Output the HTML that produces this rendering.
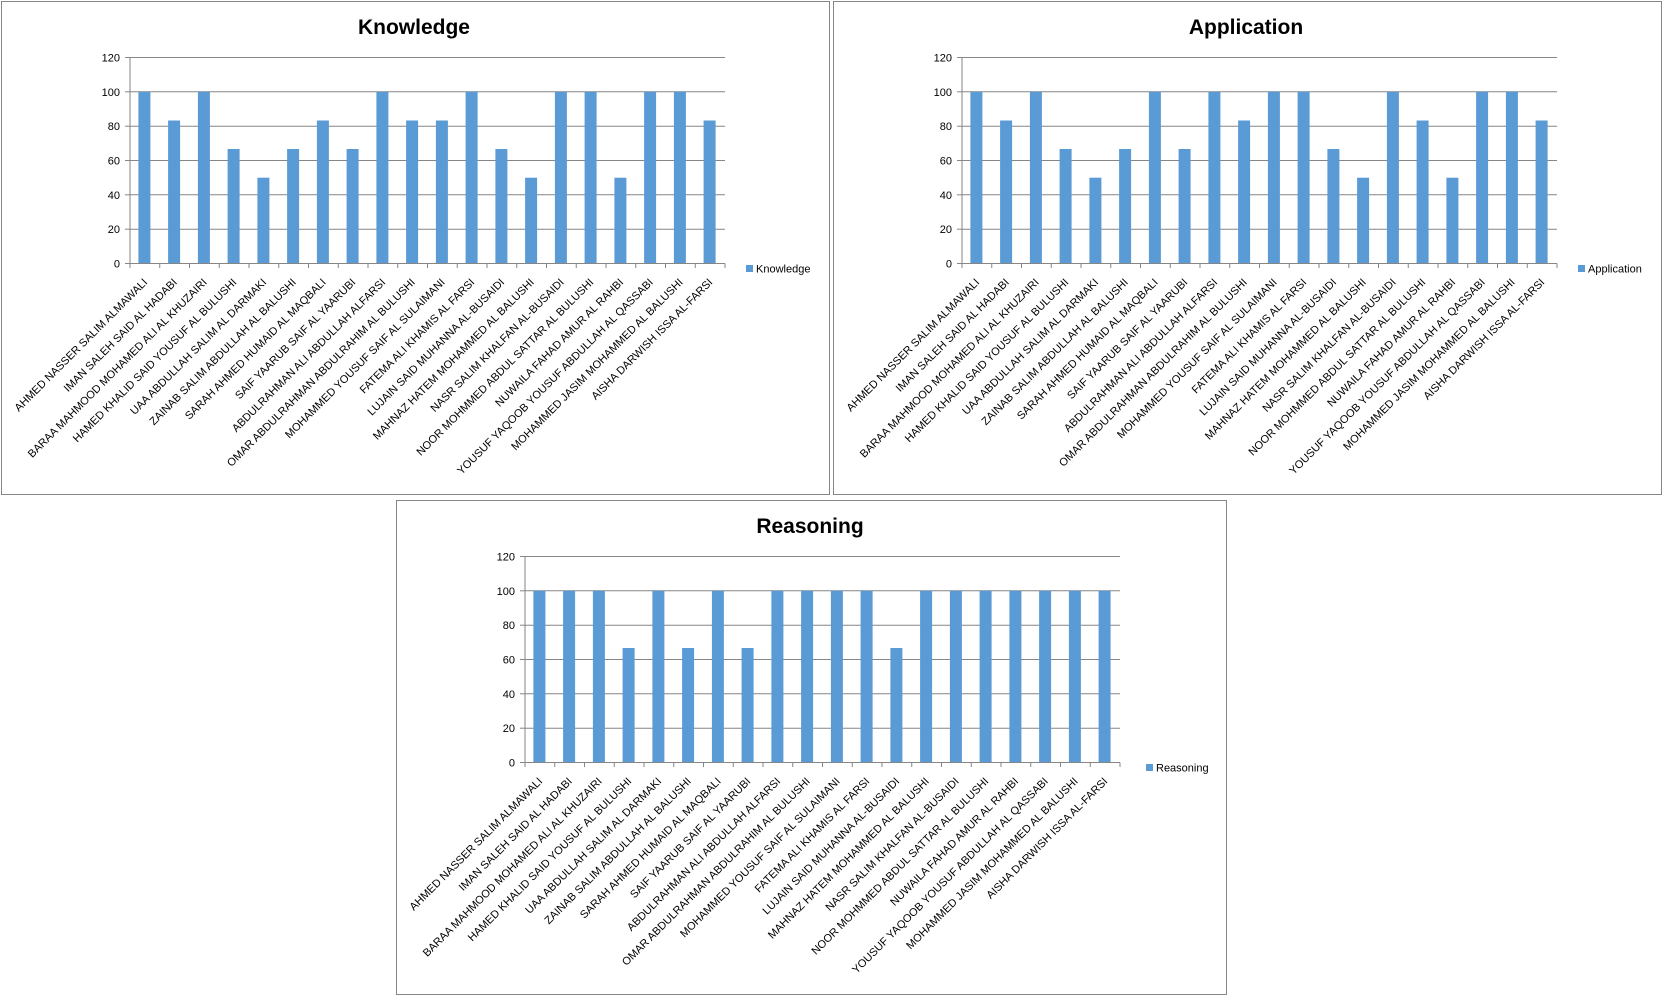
<!DOCTYPE html>
<html><head><meta charset="utf-8"><style>
html,body{margin:0;padding:0;background:#fff;}
svg{display:block;}
text{font-family:"Liberation Sans",sans-serif;fill:#000;}
.t{font-size:21px;font-weight:bold;}
.y{font-size:11px;text-anchor:end;}
.l{font-size:11px;text-anchor:end;}
.g{stroke:#868686;stroke-width:1;}
.b{fill:#5b9bd5;}
</style></head><body>
<svg width="1664" height="996" viewBox="0 0 1664 996" xmlns="http://www.w3.org/2000/svg">

<!-- Chart 1 Knowledge -->
<g transform="translate(1,1)">
<rect x="0.5" y="0.5" width="828" height="493" fill="#fff" stroke="#868686"/>
<text class="t" x="413" y="33" text-anchor="middle">Knowledge</text>
<g class="g">
<line x1="129" y1="56.5" x2="724" y2="56.5"/><line x1="129" y1="90.8" x2="724" y2="90.8"/><line x1="129" y1="125.2" x2="724" y2="125.2"/><line x1="129" y1="159.5" x2="724" y2="159.5"/><line x1="129" y1="193.8" x2="724" y2="193.8"/><line x1="129" y1="228.2" x2="724" y2="228.2"/>
<line x1="124" y1="56.5" x2="129" y2="56.5"/><line x1="124" y1="90.8" x2="129" y2="90.8"/><line x1="124" y1="125.2" x2="129" y2="125.2"/><line x1="124" y1="159.5" x2="129" y2="159.5"/><line x1="124" y1="193.8" x2="129" y2="193.8"/><line x1="124" y1="228.2" x2="129" y2="228.2"/><line x1="124" y1="262.5" x2="129" y2="262.5"/>
</g>
<text class="y" x="119" y="60.5">120</text><text class="y" x="119" y="94.8">100</text><text class="y" x="119" y="129.2">80</text><text class="y" x="119" y="163.5">60</text><text class="y" x="119" y="197.8">40</text><text class="y" x="119" y="232.2">20</text><text class="y" x="119" y="266.5">0</text>
<g class="b">
<rect x="137.4" y="90.8" width="12" height="171.7"/><rect x="167.1" y="119.5" width="12" height="143"/><rect x="196.9" y="90.8" width="12" height="171.7"/><rect x="226.6" y="148" width="12" height="114.5"/><rect x="256.4" y="176.7" width="12" height="85.8"/><rect x="286.1" y="148" width="12" height="114.5"/><rect x="315.9" y="119.5" width="12" height="143"/><rect x="345.6" y="148" width="12" height="114.5"/><rect x="375.4" y="90.8" width="12" height="171.7"/><rect x="405.1" y="119.5" width="12" height="143"/><rect x="434.9" y="119.5" width="12" height="143"/><rect x="464.6" y="90.8" width="12" height="171.7"/><rect x="494.4" y="148" width="12" height="114.5"/><rect x="524.1" y="176.7" width="12" height="85.8"/><rect x="553.9" y="90.8" width="12" height="171.7"/><rect x="583.6" y="90.8" width="12" height="171.7"/><rect x="613.4" y="176.7" width="12" height="85.8"/><rect x="643.1" y="90.8" width="12" height="171.7"/><rect x="672.9" y="90.8" width="12" height="171.7"/><rect x="702.6" y="119.5" width="12" height="143"/>
</g>
<g class="g">
<line x1="129" y1="56" x2="129" y2="267"/><line x1="129" y1="262.5" x2="724" y2="262.5"/>
<line x1="158.75" y1="262.5" x2="158.75" y2="267"/><line x1="188.5" y1="262.5" x2="188.5" y2="267"/><line x1="218.25" y1="262.5" x2="218.25" y2="267"/><line x1="248" y1="262.5" x2="248" y2="267"/><line x1="277.75" y1="262.5" x2="277.75" y2="267"/><line x1="307.5" y1="262.5" x2="307.5" y2="267"/><line x1="337.25" y1="262.5" x2="337.25" y2="267"/><line x1="367" y1="262.5" x2="367" y2="267"/><line x1="396.75" y1="262.5" x2="396.75" y2="267"/><line x1="426.5" y1="262.5" x2="426.5" y2="267"/><line x1="456.25" y1="262.5" x2="456.25" y2="267"/><line x1="486" y1="262.5" x2="486" y2="267"/><line x1="515.75" y1="262.5" x2="515.75" y2="267"/><line x1="545.5" y1="262.5" x2="545.5" y2="267"/><line x1="575.25" y1="262.5" x2="575.25" y2="267"/><line x1="605" y1="262.5" x2="605" y2="267"/><line x1="634.75" y1="262.5" x2="634.75" y2="267"/><line x1="664.5" y1="262.5" x2="664.5" y2="267"/><line x1="694.25" y1="262.5" x2="694.25" y2="267"/><line x1="724" y1="262.5" x2="724" y2="267"/>
</g>
<rect class="b" x="745" y="264" width="7" height="7"/><text x="755" y="271.5" style="font-size:11px">Knowledge</text>
<g transform="translate(-5,0)">
<text class="l" transform="translate(152,282) rotate(-45)">AHMED NASSER SALIM ALMAWALI</text>
<text class="l" transform="translate(181.7,282) rotate(-45)">IMAN SALEH SAID AL HADABI</text>
<text class="l" transform="translate(211.5,282) rotate(-45)">BARAA MAHMOOD MOHAMED ALI AL KHUZAIRI</text>
<text class="l" transform="translate(241.2,282) rotate(-45)">HAMED KHALID SAID YOUSUF AL BULUSHI</text>
<text class="l" transform="translate(271,282) rotate(-45)">UAA ABDULLAH SALIM AL DARMAKI</text>
<text class="l" transform="translate(300.7,282) rotate(-45)">ZAINAB SALIM ABDULLAH AL BALUSHI</text>
<text class="l" transform="translate(330.5,282) rotate(-45)">SARAH AHMED HUMAID AL MAQBALI</text>
<text class="l" transform="translate(360.2,282) rotate(-45)">SAIF YAARUB SAIF AL YAARUBI</text>
<text class="l" transform="translate(390,282) rotate(-45)">ABDULRAHMAN ALI ABDULLAH  ALFARSI</text>
<text class="l" transform="translate(419.7,282) rotate(-45)">OMAR ABDULRAHMAN ABDULRAHIM AL BULUSHI</text>
<text class="l" transform="translate(449.5,282) rotate(-45)">MOHAMMED YOUSUF SAIF  AL SULAIMANI</text>
<text class="l" transform="translate(479.2,282) rotate(-45)">FATEMA ALI KHAMIS AL FARSI</text>
<text class="l" transform="translate(509,282) rotate(-45)">LUJAIN SAID MUHANNA AL-BUSAIDI</text>
<text class="l" transform="translate(538.7,282) rotate(-45)">MAHNAZ HATEM MOHAMMED AL BALUSHI</text>
<text class="l" transform="translate(568.5,282) rotate(-45)">NASR SALIM KHALFAN AL-BUSAIDI</text>
<text class="l" transform="translate(598.2,282) rotate(-45)">NOOR MOHMMED ABDUL SATTAR  AL BULUSHI</text>
<text class="l" transform="translate(628,282) rotate(-45)">NUWAILA FAHAD AMUR AL RAHBI</text>
<text class="l" transform="translate(657.7,282) rotate(-45)">YOUSUF YAQOOB YOUSUF ABDULLAH AL QASSABI</text>
<text class="l" transform="translate(687.5,282) rotate(-45)">MOHAMMED JASIM MOHAMMED AL BALUSHI</text>
<text class="l" transform="translate(717.2,282) rotate(-45)">AISHA DARWISH ISSA AL-FARSI</text>
</g>
</g>

<!-- Chart 2 Application -->
<g transform="translate(833,1)">
<rect x="0.5" y="0.5" width="828" height="493" fill="#fff" stroke="#868686"/>
<text class="t" x="413" y="33" text-anchor="middle">Application</text>
<g class="g">
<line x1="129" y1="56.5" x2="724" y2="56.5"/><line x1="129" y1="90.8" x2="724" y2="90.8"/><line x1="129" y1="125.2" x2="724" y2="125.2"/><line x1="129" y1="159.5" x2="724" y2="159.5"/><line x1="129" y1="193.8" x2="724" y2="193.8"/><line x1="129" y1="228.2" x2="724" y2="228.2"/>
<line x1="124" y1="56.5" x2="129" y2="56.5"/><line x1="124" y1="90.8" x2="129" y2="90.8"/><line x1="124" y1="125.2" x2="129" y2="125.2"/><line x1="124" y1="159.5" x2="129" y2="159.5"/><line x1="124" y1="193.8" x2="129" y2="193.8"/><line x1="124" y1="228.2" x2="129" y2="228.2"/><line x1="124" y1="262.5" x2="129" y2="262.5"/>
</g>
<text class="y" x="119" y="60.5">120</text><text class="y" x="119" y="94.8">100</text><text class="y" x="119" y="129.2">80</text><text class="y" x="119" y="163.5">60</text><text class="y" x="119" y="197.8">40</text><text class="y" x="119" y="232.2">20</text><text class="y" x="119" y="266.5">0</text>
<g class="b">
<rect x="137.4" y="90.8" width="12" height="171.7"/><rect x="167.1" y="119.5" width="12" height="143"/><rect x="196.9" y="90.8" width="12" height="171.7"/><rect x="226.6" y="148" width="12" height="114.5"/><rect x="256.4" y="176.7" width="12" height="85.8"/><rect x="286.1" y="148" width="12" height="114.5"/><rect x="315.9" y="90.8" width="12" height="171.7"/><rect x="345.6" y="148" width="12" height="114.5"/><rect x="375.4" y="90.8" width="12" height="171.7"/><rect x="405.1" y="119.5" width="12" height="143"/><rect x="434.9" y="90.8" width="12" height="171.7"/><rect x="464.6" y="90.8" width="12" height="171.7"/><rect x="494.4" y="148" width="12" height="114.5"/><rect x="524.1" y="176.7" width="12" height="85.8"/><rect x="553.9" y="90.8" width="12" height="171.7"/><rect x="583.6" y="119.5" width="12" height="143"/><rect x="613.4" y="176.7" width="12" height="85.8"/><rect x="643.1" y="90.8" width="12" height="171.7"/><rect x="672.9" y="90.8" width="12" height="171.7"/><rect x="702.6" y="119.5" width="12" height="143"/>
</g>
<g class="g">
<line x1="129" y1="56" x2="129" y2="267"/><line x1="129" y1="262.5" x2="724" y2="262.5"/>
<line x1="158.75" y1="262.5" x2="158.75" y2="267"/><line x1="188.5" y1="262.5" x2="188.5" y2="267"/><line x1="218.25" y1="262.5" x2="218.25" y2="267"/><line x1="248" y1="262.5" x2="248" y2="267"/><line x1="277.75" y1="262.5" x2="277.75" y2="267"/><line x1="307.5" y1="262.5" x2="307.5" y2="267"/><line x1="337.25" y1="262.5" x2="337.25" y2="267"/><line x1="367" y1="262.5" x2="367" y2="267"/><line x1="396.75" y1="262.5" x2="396.75" y2="267"/><line x1="426.5" y1="262.5" x2="426.5" y2="267"/><line x1="456.25" y1="262.5" x2="456.25" y2="267"/><line x1="486" y1="262.5" x2="486" y2="267"/><line x1="515.75" y1="262.5" x2="515.75" y2="267"/><line x1="545.5" y1="262.5" x2="545.5" y2="267"/><line x1="575.25" y1="262.5" x2="575.25" y2="267"/><line x1="605" y1="262.5" x2="605" y2="267"/><line x1="634.75" y1="262.5" x2="634.75" y2="267"/><line x1="664.5" y1="262.5" x2="664.5" y2="267"/><line x1="694.25" y1="262.5" x2="694.25" y2="267"/><line x1="724" y1="262.5" x2="724" y2="267"/>
</g>
<rect class="b" x="745" y="264" width="7" height="7"/><text x="755" y="271.5" style="font-size:11px">Application</text>
<g transform="translate(-5,0)">
<text class="l" transform="translate(152,282) rotate(-45)">AHMED NASSER SALIM ALMAWALI</text>
<text class="l" transform="translate(181.7,282) rotate(-45)">IMAN SALEH SAID AL HADABI</text>
<text class="l" transform="translate(211.5,282) rotate(-45)">BARAA MAHMOOD MOHAMED ALI AL KHUZAIRI</text>
<text class="l" transform="translate(241.2,282) rotate(-45)">HAMED KHALID SAID YOUSUF AL BULUSHI</text>
<text class="l" transform="translate(271,282) rotate(-45)">UAA ABDULLAH SALIM AL DARMAKI</text>
<text class="l" transform="translate(300.7,282) rotate(-45)">ZAINAB SALIM ABDULLAH AL BALUSHI</text>
<text class="l" transform="translate(330.5,282) rotate(-45)">SARAH AHMED HUMAID AL MAQBALI</text>
<text class="l" transform="translate(360.2,282) rotate(-45)">SAIF YAARUB SAIF AL YAARUBI</text>
<text class="l" transform="translate(390,282) rotate(-45)">ABDULRAHMAN ALI ABDULLAH  ALFARSI</text>
<text class="l" transform="translate(419.7,282) rotate(-45)">OMAR ABDULRAHMAN ABDULRAHIM AL BULUSHI</text>
<text class="l" transform="translate(449.5,282) rotate(-45)">MOHAMMED YOUSUF SAIF  AL SULAIMANI</text>
<text class="l" transform="translate(479.2,282) rotate(-45)">FATEMA ALI KHAMIS AL FARSI</text>
<text class="l" transform="translate(509,282) rotate(-45)">LUJAIN SAID MUHANNA AL-BUSAIDI</text>
<text class="l" transform="translate(538.7,282) rotate(-45)">MAHNAZ HATEM MOHAMMED AL BALUSHI</text>
<text class="l" transform="translate(568.5,282) rotate(-45)">NASR SALIM KHALFAN AL-BUSAIDI</text>
<text class="l" transform="translate(598.2,282) rotate(-45)">NOOR MOHMMED ABDUL SATTAR  AL BULUSHI</text>
<text class="l" transform="translate(628,282) rotate(-45)">NUWAILA FAHAD AMUR AL RAHBI</text>
<text class="l" transform="translate(657.7,282) rotate(-45)">YOUSUF YAQOOB YOUSUF ABDULLAH AL QASSABI</text>
<text class="l" transform="translate(687.5,282) rotate(-45)">MOHAMMED JASIM MOHAMMED AL BALUSHI</text>
<text class="l" transform="translate(717.2,282) rotate(-45)">AISHA DARWISH ISSA AL-FARSI</text>
</g>
</g>

<!-- Chart 3 Reasoning -->
<g transform="translate(396,500)">
<rect x="0.5" y="0.5" width="830" height="494" fill="#fff" stroke="#868686"/>
<text class="t" x="414" y="33" text-anchor="middle">Reasoning</text>
<g class="g">
<line x1="129" y1="56.5" x2="724" y2="56.5"/><line x1="129" y1="90.8" x2="724" y2="90.8"/><line x1="129" y1="125.2" x2="724" y2="125.2"/><line x1="129" y1="159.5" x2="724" y2="159.5"/><line x1="129" y1="193.8" x2="724" y2="193.8"/><line x1="129" y1="228.2" x2="724" y2="228.2"/>
<line x1="124" y1="56.5" x2="129" y2="56.5"/><line x1="124" y1="90.8" x2="129" y2="90.8"/><line x1="124" y1="125.2" x2="129" y2="125.2"/><line x1="124" y1="159.5" x2="129" y2="159.5"/><line x1="124" y1="193.8" x2="129" y2="193.8"/><line x1="124" y1="228.2" x2="129" y2="228.2"/><line x1="124" y1="262.5" x2="129" y2="262.5"/>
</g>
<text class="y" x="119" y="60.5">120</text><text class="y" x="119" y="94.8">100</text><text class="y" x="119" y="129.2">80</text><text class="y" x="119" y="163.5">60</text><text class="y" x="119" y="197.8">40</text><text class="y" x="119" y="232.2">20</text><text class="y" x="119" y="266.5">0</text>
<g class="b">
<rect x="137.4" y="90.8" width="12" height="171.7"/><rect x="167.1" y="90.8" width="12" height="171.7"/><rect x="196.9" y="90.8" width="12" height="171.7"/><rect x="226.6" y="148" width="12" height="114.5"/><rect x="256.4" y="90.8" width="12" height="171.7"/><rect x="286.1" y="148" width="12" height="114.5"/><rect x="315.9" y="90.8" width="12" height="171.7"/><rect x="345.6" y="148" width="12" height="114.5"/><rect x="375.4" y="90.8" width="12" height="171.7"/><rect x="405.1" y="90.8" width="12" height="171.7"/><rect x="434.9" y="90.8" width="12" height="171.7"/><rect x="464.6" y="90.8" width="12" height="171.7"/><rect x="494.4" y="148" width="12" height="114.5"/><rect x="524.1" y="90.8" width="12" height="171.7"/><rect x="553.9" y="90.8" width="12" height="171.7"/><rect x="583.6" y="90.8" width="12" height="171.7"/><rect x="613.4" y="90.8" width="12" height="171.7"/><rect x="643.1" y="90.8" width="12" height="171.7"/><rect x="672.9" y="90.8" width="12" height="171.7"/><rect x="702.6" y="90.8" width="12" height="171.7"/>
</g>
<g class="g">
<line x1="129" y1="56" x2="129" y2="267"/><line x1="129" y1="262.5" x2="724" y2="262.5"/>
<line x1="158.75" y1="262.5" x2="158.75" y2="267"/><line x1="188.5" y1="262.5" x2="188.5" y2="267"/><line x1="218.25" y1="262.5" x2="218.25" y2="267"/><line x1="248" y1="262.5" x2="248" y2="267"/><line x1="277.75" y1="262.5" x2="277.75" y2="267"/><line x1="307.5" y1="262.5" x2="307.5" y2="267"/><line x1="337.25" y1="262.5" x2="337.25" y2="267"/><line x1="367" y1="262.5" x2="367" y2="267"/><line x1="396.75" y1="262.5" x2="396.75" y2="267"/><line x1="426.5" y1="262.5" x2="426.5" y2="267"/><line x1="456.25" y1="262.5" x2="456.25" y2="267"/><line x1="486" y1="262.5" x2="486" y2="267"/><line x1="515.75" y1="262.5" x2="515.75" y2="267"/><line x1="545.5" y1="262.5" x2="545.5" y2="267"/><line x1="575.25" y1="262.5" x2="575.25" y2="267"/><line x1="605" y1="262.5" x2="605" y2="267"/><line x1="634.75" y1="262.5" x2="634.75" y2="267"/><line x1="664.5" y1="262.5" x2="664.5" y2="267"/><line x1="694.25" y1="262.5" x2="694.25" y2="267"/><line x1="724" y1="262.5" x2="724" y2="267"/>
</g>
<rect class="b" x="750" y="264" width="7" height="7"/><text x="760" y="271.5" style="font-size:11px">Reasoning</text>
<g transform="translate(-5,0)">
<text class="l" transform="translate(152,282) rotate(-45)">AHMED NASSER SALIM ALMAWALI</text>
<text class="l" transform="translate(181.7,282) rotate(-45)">IMAN SALEH SAID AL HADABI</text>
<text class="l" transform="translate(211.5,282) rotate(-45)">BARAA MAHMOOD MOHAMED ALI AL KHUZAIRI</text>
<text class="l" transform="translate(241.2,282) rotate(-45)">HAMED KHALID SAID YOUSUF AL BULUSHI</text>
<text class="l" transform="translate(271,282) rotate(-45)">UAA ABDULLAH SALIM AL DARMAKI</text>
<text class="l" transform="translate(300.7,282) rotate(-45)">ZAINAB SALIM ABDULLAH AL BALUSHI</text>
<text class="l" transform="translate(330.5,282) rotate(-45)">SARAH AHMED HUMAID AL MAQBALI</text>
<text class="l" transform="translate(360.2,282) rotate(-45)">SAIF YAARUB SAIF AL YAARUBI</text>
<text class="l" transform="translate(390,282) rotate(-45)">ABDULRAHMAN ALI ABDULLAH  ALFARSI</text>
<text class="l" transform="translate(419.7,282) rotate(-45)">OMAR ABDULRAHMAN ABDULRAHIM AL BULUSHI</text>
<text class="l" transform="translate(449.5,282) rotate(-45)">MOHAMMED YOUSUF SAIF  AL SULAIMANI</text>
<text class="l" transform="translate(479.2,282) rotate(-45)">FATEMA ALI KHAMIS AL FARSI</text>
<text class="l" transform="translate(509,282) rotate(-45)">LUJAIN SAID MUHANNA AL-BUSAIDI</text>
<text class="l" transform="translate(538.7,282) rotate(-45)">MAHNAZ HATEM MOHAMMED AL BALUSHI</text>
<text class="l" transform="translate(568.5,282) rotate(-45)">NASR SALIM KHALFAN AL-BUSAIDI</text>
<text class="l" transform="translate(598.2,282) rotate(-45)">NOOR MOHMMED ABDUL SATTAR  AL BULUSHI</text>
<text class="l" transform="translate(628,282) rotate(-45)">NUWAILA FAHAD AMUR AL RAHBI</text>
<text class="l" transform="translate(657.7,282) rotate(-45)">YOUSUF YAQOOB YOUSUF ABDULLAH AL QASSABI</text>
<text class="l" transform="translate(687.5,282) rotate(-45)">MOHAMMED JASIM MOHAMMED AL BALUSHI</text>
<text class="l" transform="translate(717.2,282) rotate(-45)">AISHA DARWISH ISSA AL-FARSI</text>
</g>
</g>
</svg>
</body></html>
